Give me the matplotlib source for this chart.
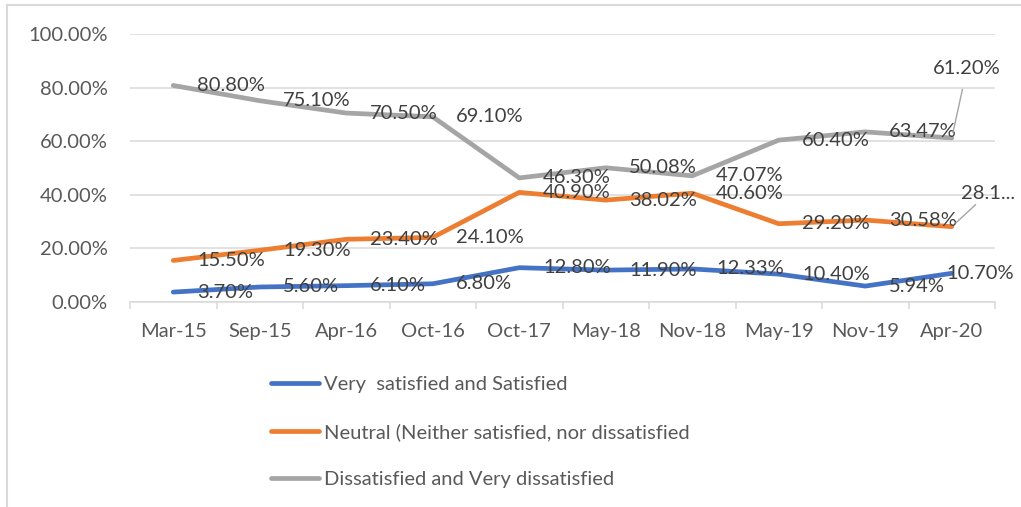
import matplotlib
matplotlib.use("Agg")
import matplotlib.pyplot as plt
from matplotlib.lines import Line2D

categories = ["Mar-15", "Sep-15", "Apr-16", "Oct-16", "Oct-17", "May-18",
              "Nov-18", "May-19", "Nov-19", "Apr-20"]
very_satisfied = [3.70, 5.60, 6.10, 6.80, 12.80, 11.90, 12.33, 10.40, 5.94, 10.70]
neutral = [15.50, 19.30, 23.40, 24.10, 40.90, 38.02, 40.60, 29.20, 30.58, 28.10]
dissatisfied = [80.80, 75.10, 70.50, 69.10, 46.30, 50.08, 47.07, 60.40, 63.47, 61.20]
series_names = ["Very  satisfied and Satisfied",
                "Neutral (Neither satisfied, nor dissatisfied",
                "Dissatisfied and Very dissatisfied"]
y_ticks = [0, 20, 40, 60, 80, 100]

colors = ["#4472C4", "#ED7D31", "#A5A5A5"]
FONT = "Lato"
FS = 14.5
LABEL_C = "#404040"
TICK_C = "#595959"
GRID_C = "#D9D9D9"

plt.rcParams["font.family"] = [FONT, "DejaVu Sans"]

fig = plt.figure(figsize=(10.21, 5.07), dpi=100)
W, H = 1021, 507
ax = fig.add_axes([130 / W, 1 - 302 / H, (995 - 130) / W, (302 - 34) / H])

x = list(range(len(categories)))
all_series = [very_satisfied, neutral, dissatisfied]
lines = []
for vals, c, name in zip(all_series, colors, series_names):
    ln, = ax.plot(x, [v / 100 for v in vals], color=c, lw=3.4,
                  solid_capstyle="round", solid_joinstyle="round", label=name, zorder=3)
    lines.append(ln)

# data labels (right of point)
last = len(categories) - 1
for si, vals in enumerate(all_series):
    for i, v in enumerate(vals):
        txt = f"{v:.2f}%"
        if si == 2 and i == last:
            ax.annotate(txt, (i, v / 100), xytext=(11, 50), textcoords="offset points",
                        ha="center", va="center", fontsize=FS, color=LABEL_C,
                        arrowprops=dict(arrowstyle="-", color="#A5A5A5", lw=1,
                                        shrinkA=7, shrinkB=4), zorder=5)
        elif si == 1 and i == last:
            ax.annotate(txt[:4] + "...", (i, v / 100), xytext=(6.5, 24),
                        textcoords="offset points", ha="left", va="center",
                        fontsize=FS, color=LABEL_C,
                        arrowprops=dict(arrowstyle="-", color="#A5A5A5", lw=1,
                                        shrinkA=0, shrinkB=4), zorder=5,
                        annotation_clip=False)
        else:
            dx = -4 if (si == 0 and i == last) else 17
            ax.annotate(txt, (i, v / 100), xytext=(dx, 0), textcoords="offset points",
                        ha="left", va="center", fontsize=FS, color=LABEL_C, zorder=5,
                        annotation_clip=False)

ax.set_xlim(-0.5, len(categories) - 0.5)
ax.set_ylim(0, 1.0)
ax.set_yticks([t / 100 for t in y_ticks])
ax.set_yticklabels([f"{t:.2f}%" for t in y_ticks])
ax.set_xticks(x)
ax.set_xticklabels(categories)
ax.set_xticks([i - 0.5 for i in range(len(categories) + 1)], minor=True)
ax.tick_params(axis="x", which="major", length=0, pad=15, labelsize=FS, labelcolor=TICK_C)
ax.tick_params(axis="x", which="minor", length=5, width=1.1, color=GRID_C, direction="out")
ax.tick_params(axis="y", length=0, pad=16, labelsize=FS, labelcolor=TICK_C)
ax.grid(axis="y", color=GRID_C, lw=1.1, zorder=0)
for s in ["left", "right", "top"]:
    ax.spines[s].set_visible(False)
ax.spines["bottom"].set_color(GRID_C)
ax.spines["bottom"].set_linewidth(1.1)
ax.set_axisbelow(True)

leg = fig.legend(handles=lines, loc="upper left", bbox_to_anchor=(271 / W, 1 - 376 / H),
                 frameon=False, fontsize=FS, handlelength=2.4, handletextpad=0.25,
                 labelspacing=1.48, borderaxespad=0, borderpad=0)
for t in leg.get_texts():
    t.set_color(TICK_C)

# chart border (top and left visible)
fig.add_artist(Line2D([7 / W, 1], [1 - 5 / H, 1 - 5 / H], color=GRID_C, lw=1.5))
fig.add_artist(Line2D([7 / W, 7 / W], [0, 1 - 5 / H], color=GRID_C, lw=1.5))

fig.savefig("out.png", dpi=100)
